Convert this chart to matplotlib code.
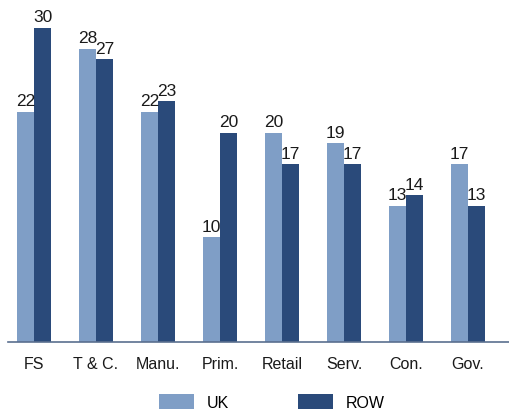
import matplotlib
matplotlib.use("Agg")
import matplotlib.pyplot as plt
import numpy as np

categories = ["FS", "T & C.", "Manu.", "Prim.", "Retail", "Serv.", "Con.", "Gov."]
uk = [22, 28, 22, 10, 20, 19, 13, 17]
row = [30, 27, 23, 20, 17, 17, 14, 13]
series_names = ["UK", "ROW"]

uk_color = "#7f9ec6"
row_color = "#2a4a7a"

plt.rcParams["font.family"] = ["Liberation Sans", "DejaVu Sans"]

fig = plt.figure(figsize=(5.1, 4.1), dpi=100)
ax = fig.add_axes([8 / 510, 67 / 410, 502 / 510, 343 / 410])

x = np.arange(len(categories))
w = 0.28
b1 = ax.bar(x - w / 2, uk, width=w, color=uk_color, label=series_names[0])
b2 = ax.bar(x + w / 2, row, width=w, color=row_color, label=series_names[1])

for bars, vals in ((b1, uk), (b2, row)):
    for rect, v in zip(bars, vals):
        ax.annotate(f"{v}", (rect.get_x() + rect.get_width() / 2, v),
                    xytext=(0, 2.5), textcoords="offset points",
                    ha="center", va="bottom", fontsize=12.5, color="#1a1a1a")

ax.set_xlim(-26 / 62, (510 - 34) / 62)
ax.set_ylim(0, 343 / 10.47)
ax.set_xticks(x)
ax.set_xticklabels(categories, fontsize=11.5, color="#1a1a1a")
ax.tick_params(axis="x", length=0, pad=10)
ax.set_yticks([])
for s in ("top", "right", "left"):
    ax.spines[s].set_visible(False)
ax.spines["bottom"].set_color("#5a6f8f")
ax.spines["bottom"].set_linewidth(1.2)
ax.patch.set_alpha(0)

fig.legend(handles=[b1, b2], labels=series_names, loc="center",
           bbox_to_anchor=(272 / 510, 1 - 403 / 410), ncol=2, frameon=False,
           fontsize=11.5, handlelength=2.2, handleheight=1.2,
           handletextpad=0.8, columnspacing=4.3)

fig.savefig("out.png", dpi=100)
